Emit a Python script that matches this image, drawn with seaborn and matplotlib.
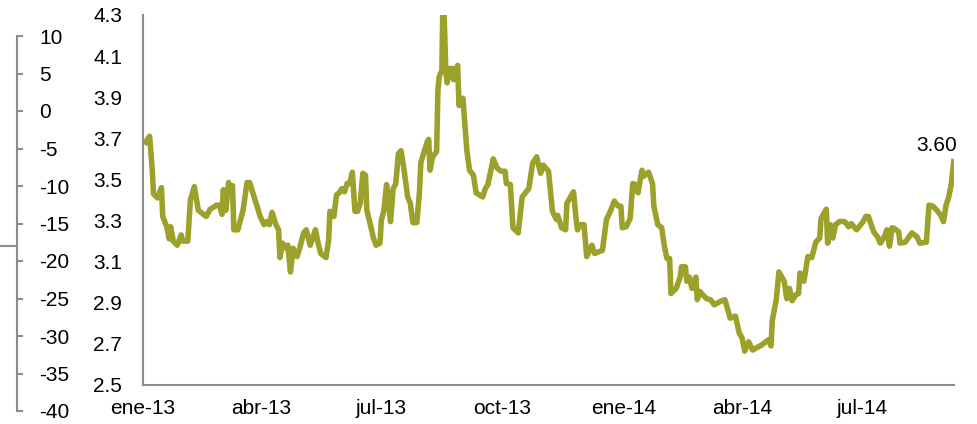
import pandas as pd
import matplotlib
matplotlib.use("Agg")
import matplotlib.pyplot as plt
import seaborn as sns

# Serie diaria
fechas = [
    "2013-01-02", "2013-01-06", "2013-01-08", "2013-01-09", "2013-01-12", "2013-01-15", "2013-01-16",
    "2013-01-19", "2013-01-21", "2013-01-22", "2013-01-24", "2013-01-27", "2013-01-30", "2013-01-31",
    "2013-02-04", "2013-02-06", "2013-02-09", "2013-02-12", "2013-02-18", "2013-02-21", "2013-02-26",
    "2013-02-28", "2013-03-02", "2013-03-03", "2013-03-05", "2013-03-07", "2013-03-08", "2013-03-10",
    "2013-03-11", "2013-03-14", "2013-03-18", "2013-03-21", "2013-03-23", "2013-03-31", "2013-04-03",
    "2013-04-05", "2013-04-07", "2013-04-09", "2013-04-12", "2013-04-14", "2013-04-15", "2013-04-17",
    "2013-04-20", "2013-04-21", "2013-04-23", "2013-04-25", "2013-04-28", "2013-04-30", "2013-05-03",
    "2013-05-05", "2013-05-08", "2013-05-12", "2013-05-14", "2013-05-16", "2013-05-20", "2013-05-22",
    "2013-05-23", "2013-05-26", "2013-05-28", "2013-05-30", "2013-06-01", "2013-06-03", "2013-06-05",
    "2013-06-07", "2013-06-09", "2013-06-11", "2013-06-13", "2013-06-15", "2013-06-17", "2013-06-19",
    "2013-06-20", "2013-06-24", "2013-06-25", "2013-06-27", "2013-06-30", "2013-07-01", "2013-07-03",
    "2013-07-05", "2013-07-06", "2013-07-08", "2013-07-10", "2013-07-12", "2013-07-14", "2013-07-16",
    "2013-07-18", "2013-07-21", "2013-07-23", "2013-07-25", "2013-07-28", "2013-07-30", "2013-07-31",
    "2013-08-02", "2013-08-05", "2013-08-06", "2013-08-07", "2013-08-09", "2013-08-12", "2013-08-13",
    "2013-08-14", "2013-08-16", "2013-08-17", "2013-08-19", "2013-08-20", "2013-08-22", "2013-08-24",
    "2013-08-25", "2013-08-28", "2013-08-29", "2013-09-01", "2013-09-04", "2013-09-06", "2013-09-09",
    "2013-09-11", "2013-09-16", "2013-09-18", "2013-09-20", "2013-09-24", "2013-09-27", "2013-09-30",
    "2013-10-03", "2013-10-04", "2013-10-07", "2013-10-09", "2013-10-13", "2013-10-16", "2013-10-21",
    "2013-10-24", "2013-10-27", "2013-10-30", "2013-11-01", "2013-11-05", "2013-11-08", "2013-11-11",
    "2013-11-12", "2013-11-15", "2013-11-18", "2013-11-19", "2013-11-24", "2013-11-26", "2013-11-27",
    "2013-11-29", "2013-12-02", "2013-12-04", "2013-12-08", "2013-12-10", "2013-12-16", "2013-12-19",
    "2013-12-22", "2013-12-25", "2013-12-28", "2013-12-30", "2013-12-31", "2014-01-03", "2014-01-06",
    "2014-01-08", "2014-01-10", "2014-01-12", "2014-01-15", "2014-01-16", "2014-01-20", "2014-01-23",
    "2014-01-24", "2014-01-27", "2014-01-30", "2014-02-01", "2014-02-03", "2014-02-05", "2014-02-06",
    "2014-02-10", "2014-02-13", "2014-02-14", "2014-02-17", "2014-02-18", "2014-02-20", "2014-02-22",
    "2014-02-25", "2014-02-26", "2014-02-28", "2014-03-02", "2014-03-05", "2014-03-08", "2014-03-11",
    "2014-03-15", "2014-03-19", "2014-03-23", "2014-03-27", "2014-03-30", "2014-04-01", "2014-04-03",
    "2014-04-06", "2014-04-09", "2014-04-16", "2014-04-21", "2014-04-23", "2014-04-24", "2014-04-27",
    "2014-04-29", "2014-05-03", "2014-05-05", "2014-05-07", "2014-05-09", "2014-05-12", "2014-05-14",
    "2014-05-15", "2014-05-18", "2014-05-21", "2014-05-24", "2014-05-27", "2014-05-30", "2014-05-31",
    "2014-06-04", "2014-06-05", "2014-06-07", "2014-06-09", "2014-06-11", "2014-06-14", "2014-06-18",
    "2014-06-21", "2014-06-23", "2014-06-27", "2014-07-02", "2014-07-04", "2014-07-06", "2014-07-10",
    "2014-07-13", "2014-07-15", "2014-07-18", "2014-07-20", "2014-07-22", "2014-07-24", "2014-07-26",
    "2014-07-29", "2014-07-30", "2014-08-03", "2014-08-08", "2014-08-12", "2014-08-14", "2014-08-19",
    "2014-08-21", "2014-08-24", "2014-08-27", "2014-08-30", "2014-09-01", "2014-09-03", "2014-09-05",
    "2014-09-07", "2014-09-09",
]
valores = [
    3.67, 3.71, 3.55, 3.43, 3.41, 3.46, 3.32,
    3.27, 3.21, 3.27, 3.20, 3.18, 3.23, 3.20,
    3.20, 3.40, 3.465, 3.35, 3.32, 3.355, 3.375,
    3.375, 3.33, 3.45, 3.35, 3.485, 3.465, 3.47,
    3.255, 3.255, 3.35, 3.485, 3.485, 3.32, 3.28,
    3.295, 3.28, 3.34, 3.28, 3.255, 3.12, 3.19,
    3.165, 3.18, 3.05, 3.165, 3.125, 3.165, 3.24,
    3.255, 3.18, 3.255, 3.19, 3.14, 3.12, 3.205,
    3.345, 3.32, 3.425, 3.435, 3.455, 3.44, 3.48,
    3.48, 3.535, 3.345, 3.345, 3.385, 3.53, 3.52,
    3.35, 3.245, 3.215, 3.18, 3.19, 3.30, 3.35,
    3.475, 3.425, 3.295, 3.455, 3.48, 3.625, 3.64,
    3.56, 3.415, 3.385, 3.29, 3.29, 3.44, 3.58,
    3.625, 3.685, 3.695, 3.545, 3.61, 3.635, 3.935,
    4.00, 4.03, 4.45, 4.03, 3.97, 4.04, 4.04,
    3.985, 4.055, 3.86, 3.895, 3.64, 3.545, 3.52,
    3.435, 3.415, 3.455, 3.475, 3.60, 3.555, 3.54,
    3.54, 3.48, 3.475, 3.265, 3.24, 3.415, 3.455,
    3.58, 3.61, 3.53, 3.57, 3.54, 3.345, 3.305,
    3.325, 3.265, 3.255, 3.385, 3.44, 3.305, 3.255,
    3.28, 3.28, 3.125, 3.18, 3.14, 3.155, 3.305,
    3.345, 3.395, 3.37, 3.37, 3.265, 3.27, 3.31,
    3.48, 3.475, 3.435, 3.545, 3.515, 3.535, 3.48,
    3.37, 3.28, 3.265, 3.175, 3.115, 3.115, 2.945,
    2.97, 3.025, 3.075, 3.075, 3.005, 3.025, 2.97,
    3.025, 2.915, 2.955, 2.94, 2.92, 2.915, 2.89,
    2.905, 2.915, 2.825, 2.835, 2.75, 2.73, 2.665,
    2.71, 2.67, 2.695, 2.72, 2.69, 2.815, 2.915,
    3.05, 3.005, 2.92, 2.97, 2.91, 2.94, 2.945,
    3.045, 3.005, 3.125, 3.12, 3.195, 3.215, 3.31,
    3.355, 3.19, 3.28, 3.215, 3.28, 3.295, 3.295,
    3.27, 3.285, 3.255, 3.295, 3.32, 3.32, 3.245,
    3.22, 3.19, 3.22, 3.255, 3.175, 3.265, 3.26,
    3.245, 3.19, 3.195, 3.24, 3.22, 3.19, 3.195,
    3.375, 3.37, 3.35, 3.325, 3.295, 3.375, 3.415,
    3.48, 3.60,
]

ticks_x = ["2013-01-01", "2013-04-01", "2013-07-01", "2013-10-01",
           "2014-01-01", "2014-04-01", "2014-07-01"]
etiquetas_x = ["ene-13", "abr-13", "jul-13", "oct-13", "ene-14", "abr-14", "jul-14"]
ticks_y = [2.5, 2.7, 2.9, 3.1, 3.3, 3.5, 3.7, 3.9, 4.1, 4.3]
ticks_eje_ext = [-40, -35, -30, -25, -20, -15, -10, -5, 0, 5, 10]

color_linea = "#9ca12b"
gris = "#8c8c8c"

sns.set_style("white")
plt.rcParams["font.family"] = ["Liberation Sans", "DejaVu Sans"]
plt.rcParams["axes.unicode_minus"] = False

df = pd.DataFrame({"fecha": pd.to_datetime(fechas), "valor": valores})

fig = plt.figure(figsize=(9.77, 4.24), dpi=100)

# Eje principal
ax = fig.add_axes([143 / 977, 1 - 385 / 424, (954 - 143) / 977, 370 / 424])
sns.lineplot(data=df, x="fecha", y="valor", ax=ax, color=color_linea,
             linewidth=4.0, solid_joinstyle="round", solid_capstyle="butt")
ax.set_xlim(pd.Timestamp("2013-01-01"), pd.Timestamp("2014-09-09"))
ax.set_ylim(2.5, 4.3)
ax.set_yticks(ticks_y)
ax.set_yticklabels([f"{v:.1f}" for v in ticks_y])
ax.set_xticks(pd.to_datetime(ticks_x))
ax.set_xticklabels(etiquetas_x)
ax.set_xlabel("")
ax.set_ylabel("")
for s in ["top", "right"]:
    ax.spines[s].set_visible(False)
for s in ["left", "bottom"]:
    ax.spines[s].set_color(gris)
    ax.spines[s].set_linewidth(1.5)
ax.tick_params(axis="both", direction="out", length=4, width=1.5, color=gris,
               labelsize=15, labelcolor="black")
ax.tick_params(axis="y", pad=11)
ax.tick_params(axis="x", pad=6)

# Etiqueta del ultimo dato
ultimo = df.iloc[-1]
ax.annotate(f"{ultimo['valor']:.2f}", xy=(ultimo["fecha"], ultimo["valor"]),
            xytext=(2, 3), textcoords="offset points", ha="right", va="bottom",
            fontsize=15, color="black", annotation_clip=False)

# Eje secundario exterior (izquierda)
ax2 = fig.add_axes([0, 1 - 411 / 424, 17 / 977, 375 / 424])
ax2.set_ylim(-40, 10)
ax2.set_yticks(ticks_eje_ext)
ax2.set_xticks([])
ax2.yaxis.tick_right()
ax2.patch.set_visible(False)
for s in ["top", "bottom", "left"]:
    ax2.spines[s].set_visible(False)
ax2.spines["right"].set_color(gris)
ax2.spines["right"].set_linewidth(1.5)
ax2.tick_params(axis="y", direction="out", length=4, width=1.5, color=gris,
                labelsize=15, labelcolor="black", pad=12)
ax2.axhline(-18, color=gris, linewidth=1.5)

plt.savefig("out.png", dpi=100)
